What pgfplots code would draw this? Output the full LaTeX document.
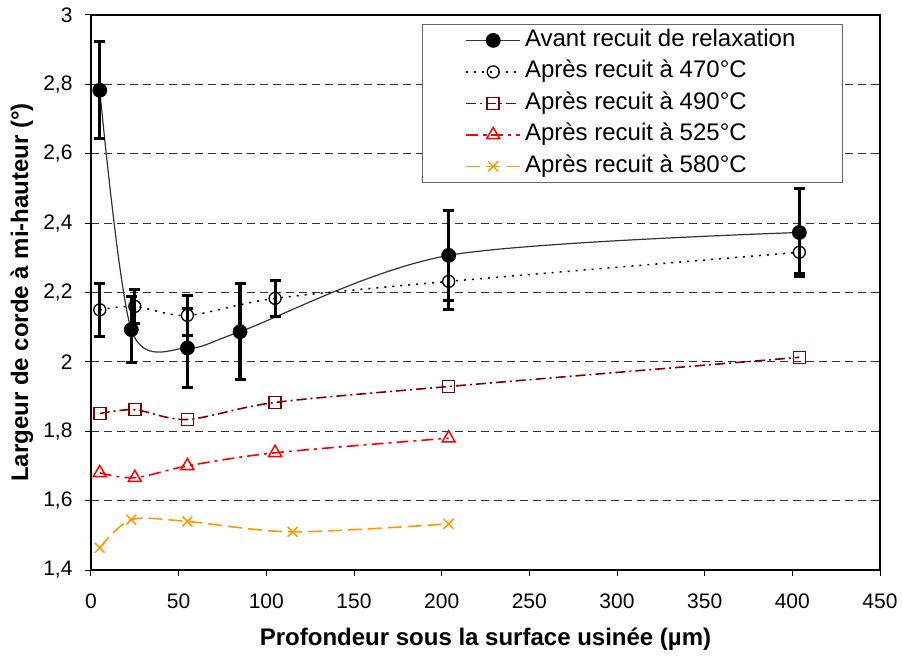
\documentclass[border=0pt]{standalone}
\usepackage{fontspec}
\setmainfont{Liberation Sans}
\usepackage{pgfplots}
\pgfplotsset{compat=1.18}
\definecolor{bordeaux}{RGB}{128,0,0}
\definecolor{orangeex}{RGB}{255,153,0}

\begin{document}
\begin{tikzpicture}
\path[use as bounding box] (0pt,0pt) rectangle (902pt,659pt);
\begin{axis}[
  at={(91pt,89pt)}, anchor=south west,
  scale only axis, width=789pt, height=555pt,
  xmin=0, xmax=450, ymin=1.4, ymax=3,
  xtick={0,50,100,150,200,250,300,350,400,450},
  ytick={1.4,1.6,1.8,2.0,2.2,2.4,2.6,2.8,3.0},
  tick pos=left, tick align=outside, major tick length=6pt,
  axis line style={line width=1.4pt},
  tick style={line width=1pt, black},
  tick label style={font=\fontsize{21}{25}\selectfont},
  xticklabel style={yshift=-14pt},
  yticklabel style={xshift=-9pt},
  /pgf/number format/assume math mode=true,
  /pgf/number format/use comma,
  /pgf/number format/fixed,
  /pgf/number format/precision=1,
  ymajorgrids,
  major grid style={black!80, line width=0.9pt, dash pattern=on 8pt off 5pt},
  xlabel={Profondeur sous la surface usinée (µm)},
  ylabel={Largeur de corde à mi-hauteur (°)},
  label style={font=\bfseries\fontsize{24}{28}\selectfont},
  xlabel style={at={(axis description cs:0.5,-0.124)}, anchor=center},
  ylabel style={at={(axis description cs:-0.0875,0.5)}, anchor=center},
  legend cell align=left,
  legend style={at={(axis description cs:0.953,0.984)}, anchor=north east,
    draw=black!60, line width=1pt, font=\fontsize{24}{28}\selectfont,
    inner xsep=43pt, inner ysep=3pt, row sep=5.5pt,
    nodes={inner ysep=2pt, inner xsep=4pt, text height=17pt, text depth=5pt}},
  legend image code/.code={
    \draw[mark repeat=2, mark phase=2] plot coordinates {(0pt,0pt) (27pt,0pt) (54pt,0pt)};},
]
% Avant recuit
\addplot[color=black!80, line width=1.2pt, smooth, mark=*,
  mark options={black, solid, mark size=6.8pt},
  error bars/.cd, y dir=both, y explicit,
  error bar style={line width=3.2pt, black, solid},
  error mark options={rotate=90, line width=3pt, mark size=5.5pt, black, solid}]
  table[x=x, y=y, y error=e] {
x y e
5 2.783 0.14
23 2.093 0.095
55 2.040 0.115
85 2.087 0.138
204 2.307 0.13
404 2.373 0.127
};
\addlegendentry{Avant recuit de relaxation}
% 470
\addplot[color=black, line width=1.5pt, smooth, dash pattern=on 2pt off 6pt, mark=o,
  mark options={black, solid, line width=1.3pt, mark size=6pt},
  error bars/.cd, y dir=both, y explicit,
  error bar style={line width=3.2pt, black, solid},
  error mark options={rotate=90, line width=3pt, mark size=5.5pt, black, solid}]
  table[x=x, y=y, y error=e] {
x y e
5 2.150 0.077
25 2.160 0.05
55 2.134 0.058
105 2.183 0.053
204 2.232 0.08
404 2.316 0.06
};
\addlegendentry{Après recuit à 470°C}
% 490
\addplot[color=bordeaux, line width=1.6pt, smooth, dash pattern=on 10pt off 4pt on 2pt off 4pt,
  mark=square, mark options={solid, line width=1.5pt, mark size=6pt}]
  table {
5 1.851
25 1.862
55 1.834
105 1.883
204 1.929
404 2.013
};
\addlegendentry{Après recuit à 490°C}
% 525
\addplot[color=red, line width=1.6pt, smooth, dash pattern=on 12pt off 5pt on 3pt off 5pt,
  mark=triangle, mark options={solid, line width=1.5pt, mark size=7.5pt}]
  table {
5 1.680
25 1.666
55 1.700
105 1.738
204 1.780
};
\addlegendentry{Après recuit à 525°C}
% 580
\addplot[color=orangeex, line width=1.6pt, smooth, dash pattern=on 14pt off 6pt,
  mark=x, mark options={solid, line width=1.5pt, mark size=7pt}]
  table {
5 1.464
23 1.545
55 1.540
115 1.510
204 1.533
};
\addlegendentry{Après recuit à 580°C}
\end{axis}
\end{tikzpicture}
\end{document}
